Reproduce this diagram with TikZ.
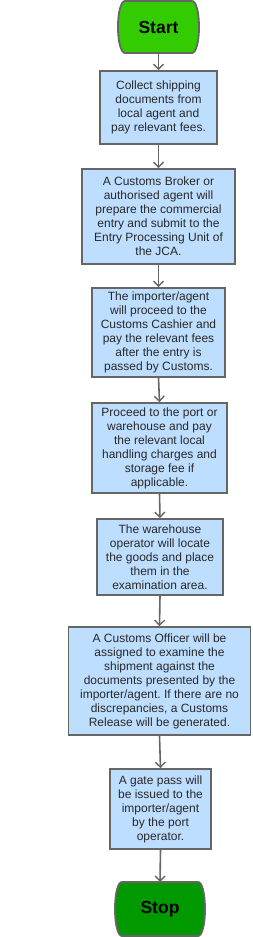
\documentclass[tikz,border=0pt]{standalone}
\usepackage{fontspec}
\setmainfont{Liberation Sans}
\usetikzlibrary{arrows.meta}
\frenchspacing
\definecolor{boxfill}{RGB}{190,222,255}
\definecolor{edge}{RGB}{102,102,102}
\definecolor{txt}{RGB}{40,40,40}
\definecolor{startgreen}{RGB}{51,204,0}
\definecolor{stopgreen}{RGB}{0,153,0}
\tikzset{
  stepbox/.style={draw=edge, line width=1.8pt, fill=boxfill, align=center,
    font=\fontsize{12}{14}\selectfont\frenchspacing, text=txt, inner sep=0pt},
  termtext/.style={font=\fontsize{17.5}{20}\selectfont\bfseries, text=black, inner sep=0pt},
  termshape/.style={draw=edge, line width=1.8pt},
  flow/.style={draw=edge, line width=1.6pt, -{Straight Barb[length=5pt,width=10pt,line width=1.4pt]}}
}
\newcommand{\termpath}[4]{% left, right, top, bottom (bulge 7)
  (#1+7,#3) -- (#2-7,#3) .. controls (#2-3,#3) and (#2,#3+11) .. (#2,{(#3+#4)/2})
  .. controls (#2,#4-11) and (#2-3,#4) .. (#2-7,#4) -- (#1+7,#4)
  .. controls (#1+3,#4) and (#1,#4-11) .. (#1,{(#3+#4)/2})
  .. controls (#1,#3+11) and (#1+3,#3) .. (#1+7,#3) -- cycle}
\begin{document}
\begin{tikzpicture}[x=1pt,y=-1pt]
\useasboundingbox (0,0) rectangle (252,937);
% terminators
\fill[startgreen] \termpath{118}{199}{1}{53};
\draw[termshape] \termpath{118}{199}{1}{53};
\node[termtext] (start) at (158.5,27) {Start};
\coordinate (startb) at (158.5,53);
\fill[stopgreen] \termpath{115}{205}{882}{936};
\draw[termshape] \termpath{115}{205}{882}{936};
\node[termtext] (stop) at (160,909) {Stop};
\coordinate (stopt) at (160,882);
% boxes
\node[stepbox, minimum width=117pt, minimum height=73pt] (b1) at (158.5,107.5)
  {Collect shipping\\documents from\\local agent and\\pay relevant fees.};
\node[stepbox, minimum width=153pt, minimum height=95pt] (b2) at (158.5,216.5)
  {A Customs Broker or\\authorised agent will\\prepare the commercial\\entry and submit to the\\Entry Processing Unit of\\the JCA.};
\node[stepbox, minimum width=133pt, minimum height=89pt] (b3) at (158.5,332.5)
  {The importer/agent\\will proceed to the\\Customs Cashier and\\pay the relevant fees\\after the entry is\\passed by Customs.};
\node[stepbox, minimum width=135pt, minimum height=90pt] (b4) at (159.5,448)
  {Proceed to the port or\\warehouse and pay\\the relevant local\\handling charges and\\storage fee if\\applicable.};
\node[stepbox, minimum width=126pt, minimum height=76pt] (b5) at (160,557)
  {The warehouse\\operator will locate\\the goods and place\\them in the\\examination area.};
\node[stepbox, minimum width=182pt, minimum height=108pt] (b6) at (159.5,681)
  {A Customs Officer will be\\assigned to examine the\\shipment against the\\documents presented by the\\importer/agent. If there are no\\discrepancies, a Customs\\Release will be generated.};
\node[stepbox, minimum width=101pt, minimum height=80pt] (b7) at (160.5,809)
  {A gate pass will\\be issued to the\\importer/agent\\by the port\\operator.};
% connectors
\draw[flow] (startb) -- (b1.north);
\draw[flow] (b1.south) -- (b2.north);
\draw[flow] (b2.south) -- (b3.north);
\draw[flow] (b3.south) -- (b4.north);
\draw[flow] (b4.south) -- (b5.north);
\draw[flow] (b5.south) -- (b6.north);
\draw[flow] (b6.south) -- (b7.north);
\draw[flow] (b7.south) -- (stopt);
\end{tikzpicture}
\end{document}
